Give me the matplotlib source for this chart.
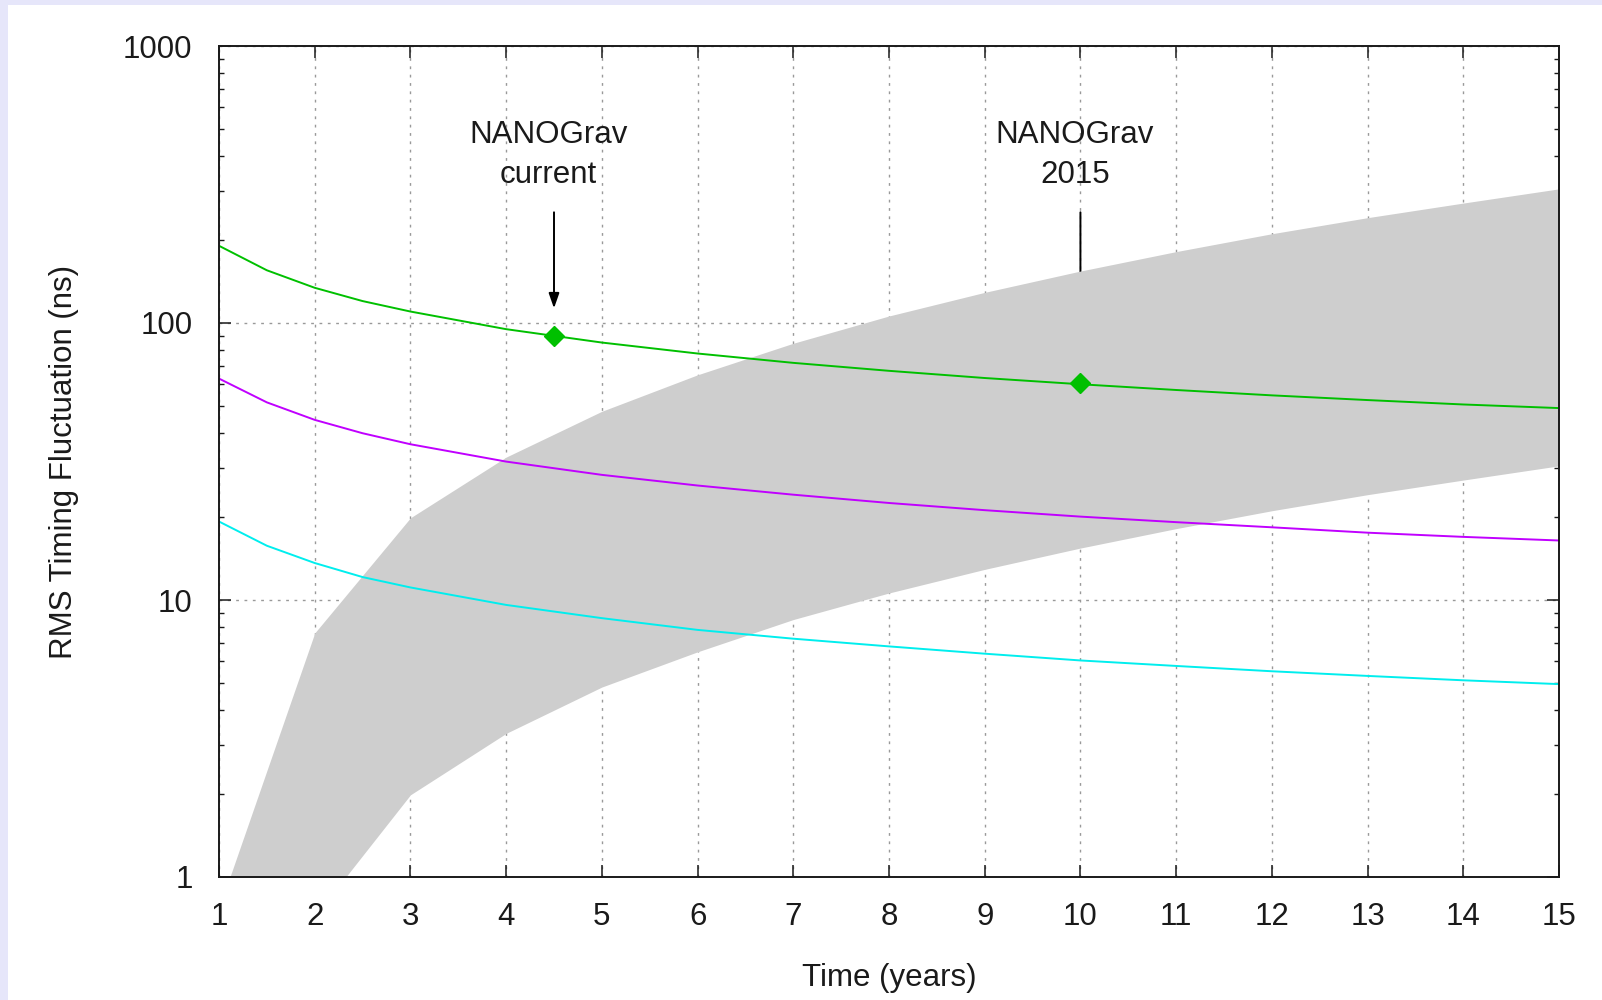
"""Pulsar timing: RMS fluctuation vs. observing span, with the expected GW band."""
import matplotlib
matplotlib.use("Agg")
import matplotlib.pyplot as plt
from matplotlib.patches import Rectangle

plt.rcParams['font.family'] = ['Liberation Sans', 'DejaVu Sans']
plt.rcParams['font.size'] = 22.5

# observing span (years)
years = [1, 1.5, 2, 2.5, 3, 4, 5, 6, 7, 8, 9, 10, 11, 12, 13, 14, 15]

# timing noise curves (ns)
rms_green = [190, 155, 134, 120, 110, 95, 85, 77.6, 71.8, 67.2, 63.3, 60.1, 57.3, 54.8, 52.7, 50.8, 49.3]
rms_violet = [63, 51.7, 44.7, 40, 36.5, 31.6, 28.3, 25.9, 24, 22.4, 21.1, 20, 19.1, 18.3, 17.5, 16.9, 16.4]
rms_cyan = [19.2, 15.7, 13.6, 12.1, 11.1, 9.6, 8.6, 7.8, 7.25, 6.8, 6.4, 6.05, 5.78, 5.53, 5.32, 5.13, 4.97]

# background band (ns), sampled yearly
band_years = [1, 2, 3, 4, 5, 6, 7, 8, 9, 10, 11, 12, 13, 14, 15]
band_upper = [0.77, 7.6, 19.8, 32.8, 48, 65, 84.5, 106, 129, 154, 181, 210, 240, 271, 305]
band_lower = [0.077, 0.72, 1.98, 3.3, 4.85, 6.5, 8.5, 10.6, 12.9, 15.4, 18.1, 21, 24, 27.1, 30.5]

# NANOGrav markers
nano_years = [4.5, 10]
nano_rms = [90, 60.5]
nano_labels = ['NANOGrav\ncurrent', 'NANOGrav\n2015']
arrow_top = 251
arrow_tip = [113, 80]
label_y = 405

fig = plt.figure(figsize=(16.02, 10), dpi=100, facecolor='#e6e6fa')
fig.patches.append(Rectangle((8 / 1602, 0), 1, 1 - 5 / 1000, transform=fig.transFigure,
                             facecolor='white', edgecolor='none', zorder=-10))
ax = fig.add_axes([219 / 1602, 0.123, 1340 / 1602, 0.831])
ax.set_yscale('log')
ax.set_xlim(1, 15)
ax.set_ylim(1, 1000)

ax.fill_between(band_years, band_lower, band_upper, color='#cecece', lw=0, zorder=2)

ax.plot(years, rms_green, color='#00c000', lw=1.4, zorder=3)
ax.plot(years, rms_violet, color='#c000ff', lw=1.4, zorder=3)
ax.plot(years, rms_cyan, color='#00eeee', lw=1.4, zorder=3)
ax.plot(nano_years, nano_rms, 'D', color='#00c000', ms=10.5, mec='#00c000', zorder=4)

# arrows; the 2015 one sits under the band
for i in range(len(nano_years)):
    ax.annotate('', xy=(nano_years[i], arrow_tip[i]), xytext=(nano_years[i], arrow_top),
                arrowprops=dict(arrowstyle='-|>,head_length=0.4,head_width=0.14',
                                color='black', lw=1.4, shrinkA=0, shrinkB=0),
                zorder=4 if i == 0 else 1)
    ax.annotate(nano_labels[i], xy=(nano_years[i], label_y), xytext=(-4, 0),
                textcoords='offset points', ha='center', va='center',
                multialignment='center', linespacing=1.42, color='#1a1a1a', zorder=5)

ax.set_xticks(range(1, 16))
ax.set_yticks([1, 10, 100, 1000])
ax.set_yticklabels(['1', '10', '100', '1000'])
ax.grid(True, which='major', color='#999999', lw=1.0, ls=(0, (2, 4)), zorder=0)
ax.set_axisbelow(True)
ax.tick_params(which='both', direction='in', top=True, right=True, colors='#1a1a1a')
ax.tick_params(which='major', length=8.5, width=1.1, pad=18)
ax.tick_params(which='minor', length=3.6, width=1.0)
ax.tick_params(axis='x', which='minor', bottom=False, top=False)
ax.tick_params(axis='y', which='major', pad=19)
for s in ax.spines.values():
    s.set_linewidth(1.4)
    s.set_color('#1a1a1a')
    s.set_zorder(6)

ax.set_xlabel('Time (years)', labelpad=22, color='#1a1a1a')
ax.set_ylabel('RMS Timing Fluctuation (ns)', labelpad=32, color='#1a1a1a')

fig.savefig('out.png', dpi=100, facecolor=fig.get_facecolor())
